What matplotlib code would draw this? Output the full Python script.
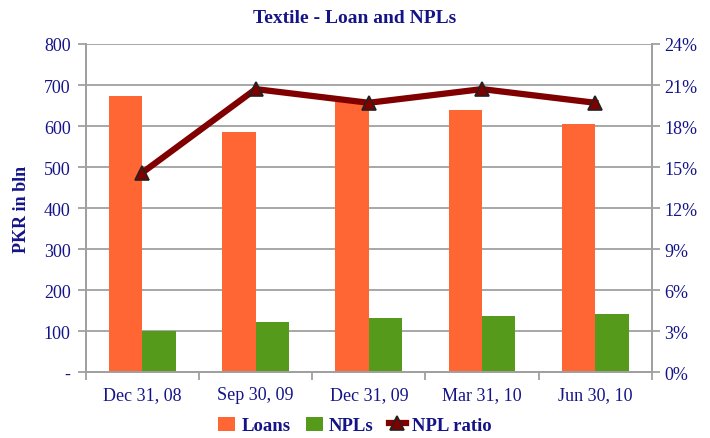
import matplotlib
matplotlib.use("Agg")
import matplotlib.pyplot as plt
import numpy as np
from matplotlib.ticker import FixedLocator

categories = ["Dec 31, 08", "Sep 30, 09", "Dec 31, 09", "Mar 31, 10", "Jun 30, 10"]
loans = [673, 585, 658, 639, 605]
npls = [100, 122, 132, 137, 141]
npl_ratio = [14.6, 20.7, 19.7, 20.7, 19.7]
left_ticks = ["-", "100", "200", "300", "400", "500", "600", "700", "800"]

navy = "#141488"
grid = "#A0A0A0"
plt.rcParams['font.family'] = ['Liberation Serif', 'DejaVu Serif']

fig = plt.figure(figsize=(7.1, 4.39), dpi=100)
ax = fig.add_axes([0.121, 0.150, 0.797, 0.7475])
x = np.arange(len(categories))
w = 0.295
ax.bar(x - w/2, loans, w, color="#FF6633", label="Loans", zorder=2)
ax.bar(x + w/2, npls, w, color="#559A1A", label="NPLs", zorder=2)
ax.set_ylim(0, 800)
ax.set_xlim(-0.5, len(categories) - 0.5)
ax.set_yticks(np.arange(0, 801, 100))
ax.set_yticklabels(left_ticks, color=navy, fontsize=13)
ax.yaxis.grid(True, color=grid, linewidth=1.3, zorder=0)
ax.set_axisbelow(True)
ax.set_xticks(x)
ax.set_xticklabels(categories, color=navy, fontsize=13)
ax.tick_params(axis='x', which='major', length=0, pad=10)
ax.xaxis.set_minor_locator(FixedLocator(np.arange(-0.5, len(categories), 1.0)))
ax.tick_params(axis='x', which='minor', length=6, color=grid, width=1.3)
ax.tick_params(axis='y', length=6, color=grid, width=1.3, pad=5)
for s in ax.spines.values():
    s.set_color(grid)
    s.set_linewidth(1.3)
ax.spines['top'].set_visible(False)
ax.set_ylabel("PKR in bln", color=navy, fontsize=13, fontweight='bold', labelpad=10)

ax2 = ax.twinx()
ax2.plot(x, npl_ratio, color="#800000", linewidth=4.5, marker="^", markersize=10,
         markerfacecolor="#800000", markeredgecolor="#222222", markeredgewidth=1.2,
         label="NPL ratio", zorder=3)
ax2.set_ylim(0, 24)
ax2.set_yticks(np.arange(0, 25, 3))
ax2.set_yticklabels([f"{v}%" for v in range(0, 25, 3)], color=navy, fontsize=13)
ax2.tick_params(axis='y', length=6, color=grid, width=1.3, pad=3)
for s in ax2.spines.values():
    s.set_color(grid)
    s.set_linewidth(1.3)
ax2.spines['top'].set_visible(False)

fig.suptitle("Textile - Loan and NPLs", color=navy, fontsize=14, fontweight='bold', y=0.978)

h1, l1 = ax.get_legend_handles_labels()
h2, l2 = ax2.get_legend_handles_labels()
fig.legend(h1 + h2, l1 + l2, loc='lower center', ncol=3, frameon=False,
           bbox_to_anchor=(0.5, -0.03), prop={'weight': 'bold', 'size': 13.5},
           labelcolor=navy, handlelength=0.9, handleheight=0.8, handletextpad=0.35,
           columnspacing=0.8)

fig.savefig("out.png", dpi=100)
